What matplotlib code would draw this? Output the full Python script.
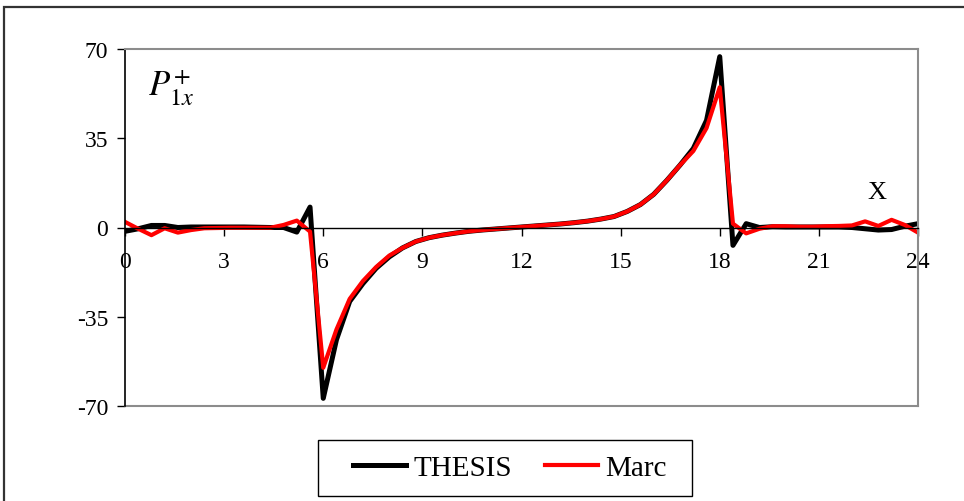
import numpy as np
import matplotlib
matplotlib.use("Agg")
import matplotlib.pyplot as plt
from matplotlib.patches import Rectangle

plt.rcParams["font.family"] = ["Liberation Serif", "DejaVu Serif"]
plt.rcParams["mathtext.fontset"] = "stix"

# sample positions along x (step 0.4)
x = np.linspace(0, 24, 61)

thesis = [
    -1.5, -0.5, 0.8, 0.8, 0.0, 0.2, 0.2, 0.2, 0.2, 0.2,
    0.1, 0.0, 0.0, -1.8, 8.0, -67.0, -44.0, -29.0, -22.0, -16.0,
    -11.5, -8.0, -5.5, -4.0, -3.0, -2.2, -1.5, -1.0, -0.6, -0.2,
    0.2, 0.6, 1.0, 1.4, 1.9, 2.5, 3.3, 4.3, 6.3, 9.0,
    13.0, 18.5, 24.5, 31.0, 42.0, 67.0, -7.0, 1.5, 0.0, 0.3,
    0.2, 0.2, 0.2, 0.2, 0.2, 0.0, -0.5, -1.0, -0.8, 0.5,
    1.5,
]
marc = [
    2.2, -0.5, -3.0, -0.3, -2.0, -1.0, -0.3, -0.2, -0.1, -0.1,
    -0.1, -0.1, 1.0, 2.7, -1.6, -55.0, -40.0, -28.0, -21.0, -15.5,
    -11.0, -8.0, -5.5, -4.0, -3.0, -2.2, -1.5, -1.0, -0.6, -0.2,
    0.2, 0.6, 1.0, 1.4, 1.9, 2.5, 3.3, 4.3, 6.3, 9.0,
    13.0, 18.5, 24.5, 30.0, 39.0, 55.0, 1.5, -2.3, -0.5, 0.5,
    0.5, 0.3, 0.3, 0.5, 0.6, 0.8, 2.4, 0.6, 3.0, 1.0,
    -2.0,
]

xticks = [0, 3, 6, 9, 12, 15, 18, 21, 24]
yticks = [-70, -35, 0, 35, 70]
ytick_labels = ["-70", "-35", "0", "35", "70"]

W, H = 964, 502
fig = plt.figure(figsize=(W / 100, H / 100), dpi=100)
ax = fig.add_axes([125 / W, 1 - 407 / H, (918 - 125) / W, (407 - 50) / H])

# outer chart border
fig.patches.append(Rectangle((4 / W, -0.1), 1.2, 1 - 8 / H + 0.1,
                             transform=fig.transFigure, fill=False,
                             edgecolor="#333333", linewidth=1.6))

l1, = ax.plot(x, thesis, color="black", lw=3.6, solid_joinstyle="round", label="THESIS")
l2, = ax.plot(x, marc, color="#ff0000", lw=3.0, solid_joinstyle="round", label="Marc")

ax.set_xlim(0, 24)
ax.set_ylim(-70, 70)

for s in ("top", "right"):
    ax.spines[s].set_color("#8c8c8c")
    ax.spines[s].set_linewidth(1.5)
ax.spines["left"].set_color("black")
ax.spines["left"].set_linewidth(1.2)
ax.spines["bottom"].set_position(("data", 0))
ax.spines["bottom"].set_color("black")
ax.spines["bottom"].set_linewidth(1.0)
ax.plot([0, 24], [-70, -70], color="#8c8c8c", lw=1.5, clip_on=False)

ax.set_xticks(xticks)
ax.set_xticklabels([str(t) for t in xticks])
ax.set_yticks(yticks)
ax.set_yticklabels(ytick_labels)
ax.tick_params(axis="x", direction="out", length=6, width=1, pad=11, labelsize=17)
ax.tick_params(axis="y", direction="out", length=6, width=1, pad=6, labelsize=17)

ax.text(0.7, 55, r"$P^{+}_{1x}$", fontsize=25, ha="left", va="center")
ax.text(22.75, 14, "X", fontsize=19, ha="center", va="center")

# legend box drawn separately so its width can be set freely
fig.patches.append(Rectangle((318 / W, 1 - 497 / H), (692 - 318) / W, (497 - 441) / H,
                             transform=fig.transFigure, fill=False,
                             edgecolor="black", linewidth=1.0))
leg = fig.legend(handles=[l1, l2], loc="center",
                 bbox_to_anchor=(510 / W, 1 - 469 / H), ncol=2,
                 fontsize=21, frameon=False,
                 handlelength=1.8, handletextpad=0.25, columnspacing=1.15,
                 borderpad=0.0)

fig.savefig("out.png", dpi=100)
